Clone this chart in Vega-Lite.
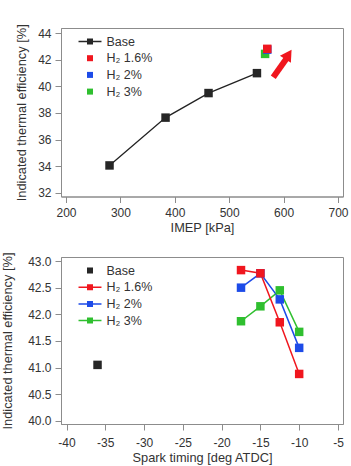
{
  "$schema": "https://vega.github.io/schema/vega-lite/v6.json",
  "padding": {"left": 0, "top": 23, "right": 5, "bottom": 0},
  "spacing": 16,
  "background": "white",
  "config": {
    "font": "Liberation Sans",
    "view": {"stroke": "#8c8c8c", "strokeWidth": 1},
    "axis": {
      "grid": false,
      "domainColor": "#8c8c8c",
      "tickColor": "#8c8c8c",
      "tickSize": 6,
      "labelFont": "Liberation Sans",
      "labelFontSize": 12,
      "labelColor": "#333",
      "labelPadding": 4,
      "labelOverlap": false,
      "labelFlush": false,
      "titleFont": "Liberation Sans",
      "titleFontSize": 12.8,
      "titleFontWeight": "normal",
      "titleColor": "#333"
    },
    "axisX": {"labelPadding": 5, "titlePadding": 3},
    "legend": {
      "orient": "none",
      "legendX": 21,
      "legendY": 5.5,
      "padding": 0,
      "rowPadding": 1.7,
      "symbolSize": 196,
      "labelFont": "Liberation Sans",
      "labelFontSize": 12.5,
      "labelColor": "#333",
      "labelOffset": 8.5,
      "title": null
    }
  },
  "datasets": {
    "top": [
      {"series": "Base", "x": 280, "y": 34.05},
      {"series": "Base", "x": 383, "y": 37.65},
      {"series": "Base", "x": 462, "y": 39.5},
      {"series": "Base", "x": 551, "y": 41.0},
      {"series": "H₂ 3%", "x": 566, "y": 42.45},
      {"series": "H₂ 2%", "x": 570, "y": 42.77},
      {"series": "H₂ 1.6%", "x": 570, "y": 42.83}
    ],
    "arrow": [
      {"x": 581, "y": 40.69, "x2": 607, "y2": 42.2}
    ],
    "arrowhead": [
      {"x": 609, "y": 42.4}
    ],
    "bottom": [
      {"series": "Base", "x": -36, "y": 41.05},
      {"series": "H₂ 3%", "x": -17.5, "y": 41.87},
      {"series": "H₂ 3%", "x": -15, "y": 42.15},
      {"series": "H₂ 3%", "x": -12.5, "y": 42.45},
      {"series": "H₂ 3%", "x": -10, "y": 41.67},
      {"series": "H₂ 2%", "x": -17.5, "y": 42.5},
      {"series": "H₂ 2%", "x": -15, "y": 42.77},
      {"series": "H₂ 2%", "x": -12.5, "y": 42.28},
      {"series": "H₂ 2%", "x": -10, "y": 41.37},
      {"series": "H₂ 1.6%", "x": -17.5, "y": 42.83},
      {"series": "H₂ 1.6%", "x": -15, "y": 42.77},
      {"series": "H₂ 1.6%", "x": -12.5, "y": 41.85},
      {"series": "H₂ 1.6%", "x": -10, "y": 40.88}
    ]
  },
  "resolve": {
    "scale": {"color": "independent", "shape": "independent", "fill": "independent", "stroke": "independent"},
    "legend": {"color": "independent", "shape": "independent"}
  },
  "vconcat": [
    {
      "width": 282,
      "height": 168.5,
      "data": {"name": "top"},
      "encoding": {
        "x": {"field": "x", "type": "quantitative", "scale": {"domain": [190.8, 709.2], "nice": false, "zero": false}, "axis": {"values": [200, 300, 400, 500, 600, 700], "title": "IMEP [kPa]"}},
        "y": {"field": "y", "type": "quantitative", "scale": {"domain": [31.71, 44.4], "nice": false, "zero": false}, "axis": {"values": [32, 34, 36, 38, 40, 42, 44], "title": "Indicated thermal efficiency [%]", "titlePadding": 9}}
      },
      "layer": [
        {
          "mark": {"type": "point", "filled": true, "opacity": 1, "size": 1},
          "encoding": {
            "color": {"field": "series", "type": "nominal", "scale": {"domain": ["Base", "H₂ 1.6%", "H₂ 2%", "H₂ 3%"], "range": ["#262626", "#f0161e", "#1d4be8", "#2fbf2f"]}, "legend": {"symbolSize": 196}},
            "shape": {"field": "series", "type": "nominal", "scale": {"domain": ["Base", "H₂ 1.6%", "H₂ 2%", "H₂ 3%"], "range": ["M-1.64,-0.107H1.64V0.107H-1.64ZM-0.43,-0.43H0.43V0.43H-0.43Z", "M-0.43,-0.43H0.43V0.43H-0.43Z", "M-0.43,-0.43H0.43V0.43H-0.43Z", "M-0.43,-0.43H0.43V0.43H-0.43Z"]}, "legend": {"symbolSize": 196}}
          }
        },
        {
          "transform": [{"filter": "datum.series === 'Base'"}],
          "mark": {"type": "line", "color": "#222", "strokeWidth": 1.3}
        },
        {
          "mark": {"type": "point", "shape": "square", "filled": true, "opacity": 1, "size": 72},
          "encoding": {
            "fill": {"field": "series", "type": "nominal", "scale": {"domain": ["H₂ 3%", "H₂ 2%", "H₂ 1.6%", "Base"], "range": ["#2fbf2f", "#1d4be8", "#f0161e", "#262626"]}, "legend": null}
          }
        },
        {
          "data": {"name": "arrow"},
          "mark": {"type": "rule", "color": "#f0161e", "strokeWidth": 6},
          "encoding": {
            "x": {"field": "x", "type": "quantitative"},
            "y": {"field": "y", "type": "quantitative"},
            "x2": {"field": "x2"},
            "y2": {"field": "y2"}
          }
        },
        {
          "data": {"name": "arrowhead"},
          "mark": {"type": "point", "shape": "triangle-up", "filled": true, "opacity": 1, "color": "#f0161e", "size": 170, "angle": 33},
          "encoding": {
            "x": {"field": "x", "type": "quantitative"},
            "y": {"field": "y", "type": "quantitative"}
          }
        }
      ]
    },
    {
      "width": 282,
      "height": 167,
      "data": {"name": "bottom"},
      "encoding": {
        "x": {"field": "x", "type": "quantitative", "scale": {"domain": [-40.71, -4.35], "nice": false, "zero": false}, "axis": {"values": [-40, -35, -30, -25, -20, -15, -10, -5], "title": "Spark timing [deg ATDC]", "labelPadding": 7.5, "labelExpr": "replace(datum.label, '−', '-')"}},
        "y": {"field": "y", "type": "quantitative", "scale": {"domain": [39.94, 43.076], "nice": false, "zero": false}, "axis": {"values": [40, 40.5, 41, 41.5, 42, 42.5, 43], "format": ".1f", "title": "Indicated thermal efficiency [%]", "titlePadding": 13.5}}
      },
      "layer": [
        {
          "mark": {"type": "point", "filled": true, "opacity": 1, "size": 1},
          "encoding": {
            "color": {"field": "series", "type": "nominal", "scale": {"domain": ["Base", "H₂ 1.6%", "H₂ 2%", "H₂ 3%"], "range": ["#262626", "#f0161e", "#1d4be8", "#2fbf2f"]}, "legend": {"symbolSize": 196}},
            "shape": {"field": "series", "type": "nominal", "scale": {"domain": ["Base", "H₂ 1.6%", "H₂ 2%", "H₂ 3%"], "range": ["M-0.43,-0.43H0.43V0.43H-0.43Z", "M-1.64,-0.107H1.64V0.107H-1.64ZM-0.43,-0.43H0.43V0.43H-0.43Z", "M-1.64,-0.107H1.64V0.107H-1.64ZM-0.43,-0.43H0.43V0.43H-0.43Z", "M-1.64,-0.107H1.64V0.107H-1.64ZM-0.43,-0.43H0.43V0.43H-0.43Z"]}, "legend": {"symbolSize": 196}}
          }
        },
        {
          "transform": [{"filter": "datum.series !== 'Base'"}],
          "mark": {"type": "line", "strokeWidth": 1.5},
          "encoding": {
            "stroke": {"field": "series", "type": "nominal", "scale": {"domain": ["H₂ 3%", "H₂ 2%", "H₂ 1.6%", "Base"], "range": ["#2fbf2f", "#1d4be8", "#f0161e", "#262626"]}, "legend": null}
          }
        },
        {
          "mark": {"type": "point", "shape": "square", "filled": true, "opacity": 1, "size": 72},
          "encoding": {
            "fill": {"field": "series", "type": "nominal", "scale": {"domain": ["H₂ 3%", "H₂ 2%", "H₂ 1.6%", "Base"], "range": ["#2fbf2f", "#1d4be8", "#f0161e", "#262626"]}, "legend": null}
          }
        }
      ]
    }
  ]
}
